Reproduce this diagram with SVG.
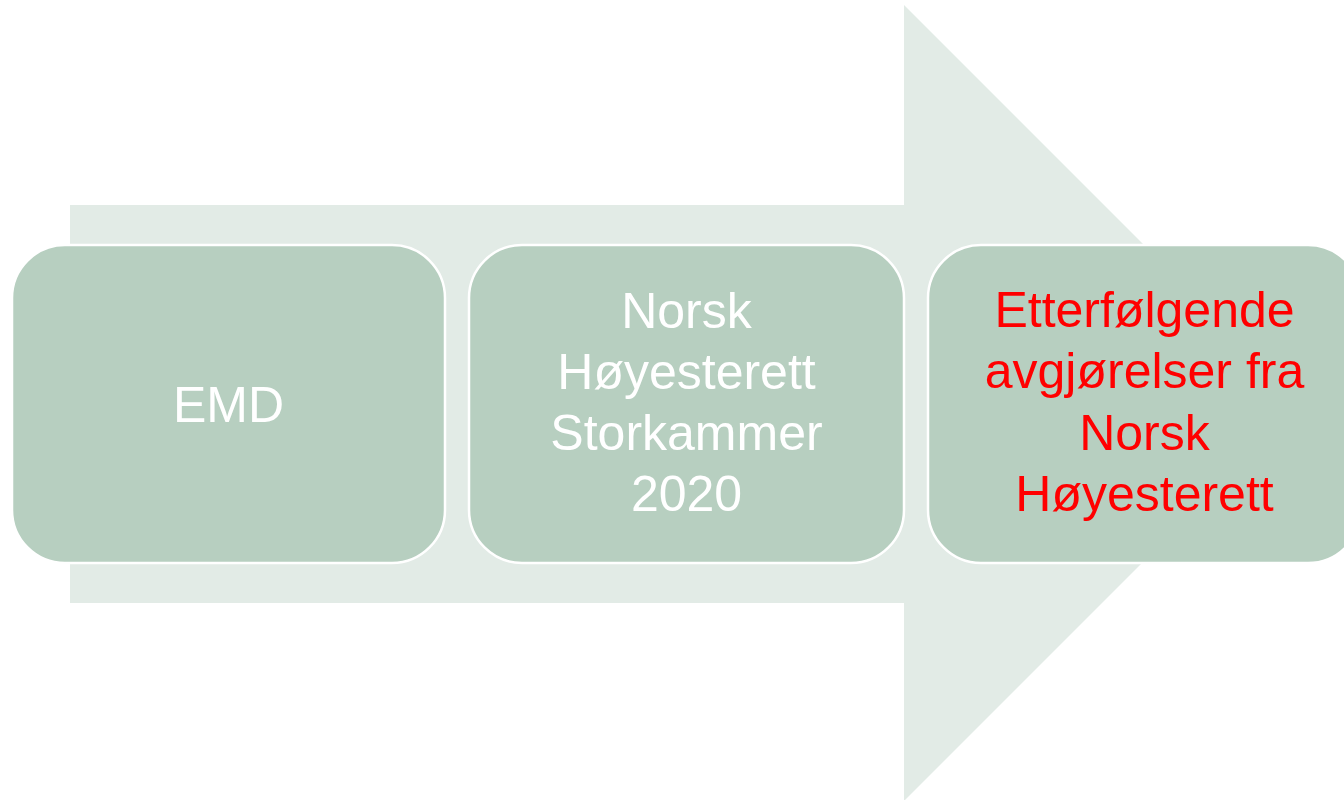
<svg xmlns="http://www.w3.org/2000/svg" width="1344" height="800" viewBox="0 0 1344 800">
<style>
.box{fill:#B7CFC0;stroke:#FFFFFF;stroke-width:2.5}
.t{font-family:"Liberation Sans",Arial,sans-serif;font-size:50px;text-anchor:middle}
.w{fill:#FFFFFF}
.r{fill:#FF0000}
</style>
<rect width="1344" height="800" fill="#FFFFFF"/>
<g id="connectors">
<polygon id="arrow" points="70,205 904,205 904,5 1302,403 904,801 904,603 70,603" fill="#E2EBE6"/>
</g>
<g id="node-emd">
<rect class="box" x="12" y="245" width="433" height="318" rx="53" ry="53"/>
<text class="t w" x="228.5" y="422">EMD</text>
</g>
<g id="node-hr2020">
<rect class="box" x="469" y="245" width="435" height="318" rx="53" ry="53"/>
<text class="t w" x="686.5" y="328">Norsk</text>
<text class="t w" x="686.5" y="389">Høyesterett</text>
<text class="t w" x="686.5" y="450">Storkammer</text>
<text class="t w" x="686.5" y="511">2020</text>
</g>
<g id="node-etterfolgende">
<rect class="box" x="928" y="245" width="433" height="318" rx="53" ry="53"/>
<text class="t r" x="1144.5" y="327">Etterfølgende</text>
<text class="t r" x="1144.5" y="388">avgjørelser fra</text>
<text class="t r" x="1144.5" y="450">Norsk</text>
<text class="t r" x="1144.5" y="511">Høyesterett</text>
</g>
</svg>
